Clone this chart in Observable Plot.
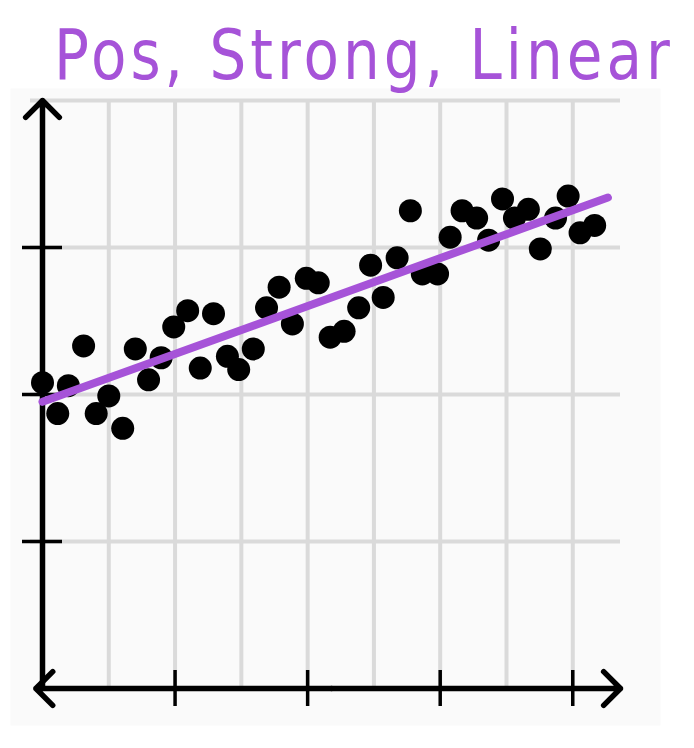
<!DOCTYPE html>
<html>
<head>
<meta charset="utf-8">
<script src="https://cdn.jsdelivr.net/npm/d3@7"></script>
<script src="https://cdn.jsdelivr.net/npm/@observablehq/plot@0.6"></script>
<style>
  html, body { margin: 0; padding: 0; background: #ffffff; }
  #wrap { position: relative; width: 694px; height: 748px; }
  #title {
    position: absolute; left: 54px; top: 14px;
    font-family: "DejaVu Sans", sans-serif; font-weight: 400;
    font-size: 58px; color: #a653d8; letter-spacing: 4px;
    transform: scaleY(1.2); transform-origin: left top;
    white-space: nowrap; z-index: 2;
  }
</style>
</head>
<body>
<div id="wrap">
  <div id="title">Pos, Strong, Linear</div>
  <div id="chart"></div>
</div>
<script>
const titleText = "Pos, Strong, Linear";
const xs = [0.00,0.23,0.39,0.62,0.81,1.00,1.21,1.40,1.60,1.79,1.98,2.19,2.38,2.58,2.79,2.96,3.18,3.38,3.57,3.77,3.98,4.16,4.34,4.55,4.77,4.95,5.14,5.35,5.55,5.73,5.96,6.15,6.33,6.55,6.73,6.94,7.12,7.33,7.51,7.74,7.93,8.11,8.33];
const ys = [2.08,1.87,2.06,2.33,1.87,1.99,1.77,2.31,2.10,2.25,2.46,2.57,2.18,2.55,2.26,2.17,2.31,2.59,2.73,2.48,2.79,2.76,2.39,2.43,2.59,2.88,2.66,2.93,3.25,2.82,2.82,3.07,3.25,3.20,3.05,3.33,3.20,3.26,2.99,3.20,3.35,3.10,3.15];
const trendX = [0.0, 8.53];
const trendY = [1.95, 3.34];
const xGrid = [1,2,3,4,5,6,7,8];
const yGrid = [1,2,3,4];
const xTicks = [2,4,6,8];
const yTicks = [1,2,3];
const xDomain = [0, 8.72];
const yDomain = [0, 4];
const xLeftTip = -0.1;

const points = xs.map((x, i) => ({x, y: ys[i]}));
const trend = trendX.map((x, i) => ({x, y: trendY[i]}));
const xMid = (xDomain[0] + xDomain[1]) / 2;
const xArrows = [
  {x1: xMid, x2: xDomain[1]},
  {x1: xMid, x2: xLeftTip}
];
const yArrow = [{y1: yDomain[0], y2: yDomain[1]}];

document.getElementById("title").textContent = titleText;

const chart = Plot.plot({
  width: 694,
  height: 748,
  marginLeft: 42,
  marginRight: 74,
  marginTop: 100,
  marginBottom: 60,
  x: {domain: xDomain, axis: null},
  y: {domain: yDomain, axis: null},
  style: {background: "#ffffff", overflow: "visible"},
  marks: [
    Plot.frame({fill: "#fafafa", stroke: null, insetLeft: -32, insetRight: -40, insetTop: -12, insetBottom: -37}),
    Plot.ruleX(xGrid, {stroke: "#dadada", strokeWidth: 4}),
    Plot.ruleY(yGrid, {stroke: "#dadada", strokeWidth: 4, insetLeft: -12}),
    Plot.arrow(yArrow, {x1: () => xDomain[0], x2: () => xDomain[0], y1: "y1", y2: "y2", stroke: "#000", strokeWidth: 5.5, headAngle: 90, headLength: 6.5, bend: 0}),
    Plot.arrow(xArrows, {x1: "x1", x2: "x2", y1: () => yDomain[0], y2: () => yDomain[0], stroke: "#000", strokeWidth: 5.5, headAngle: 90, headLength: 6.5, bend: 0}),
    Plot.ruleX(xTicks, {y1: yDomain[0], y2: yDomain[0], insetTop: -18, insetBottom: -18, stroke: "#000", strokeWidth: 3.5}),
    Plot.ruleY(yTicks, {x1: xDomain[0], x2: xDomain[0], insetLeft: -20, insetRight: -20, stroke: "#000", strokeWidth: 3.5}),
    Plot.dot(points, {x: "x", y: "y", r: 11.5, fill: "#000", stroke: null}),
    Plot.line(trend, {x: "x", y: "y", stroke: "#a653d8", strokeWidth: 8, strokeLinecap: "round"})
  ]
});
document.getElementById("chart").appendChild(chart);
</script>
</body>
</html>
